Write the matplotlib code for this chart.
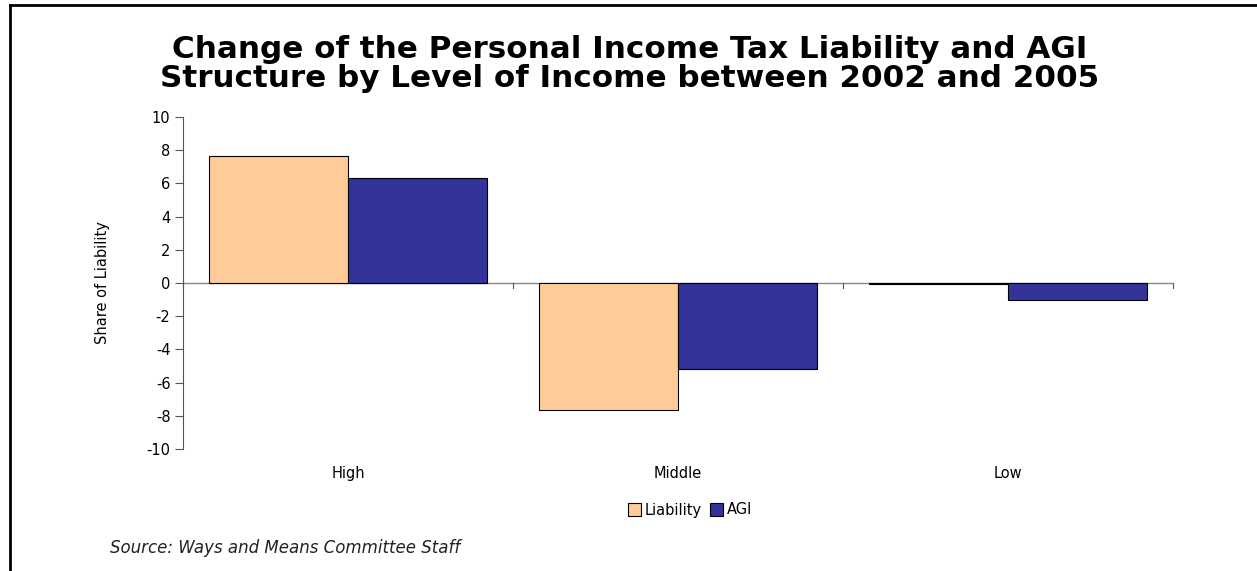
import numpy as np
import matplotlib.pyplot as plt
from matplotlib.lines import Line2D

# Data
categories = ['High', 'Middle', 'Low']
liability = [7.65, -7.65, -0.05]
agi = [6.33, -5.18, -1.02]
yticks = [-10, -8, -6, -4, -2, 0, 2, 4, 6, 8, 10]

W, H = 1257, 571
fig = plt.figure(figsize=(W / 100, H / 100), dpi=100)
ax = fig.add_axes([183 / W, 1 - 449 / H, (1173 - 183) / W, (449 - 117) / H])

x = np.arange(len(categories))
bw = 0.42
ax.bar(x - bw / 2, liability, bw, color='#FFCC99', edgecolor='black', linewidth=0.8, label='Liability')
ax.bar(x + bw / 2, agi, bw, color='#333399', edgecolor='black', linewidth=0.8, label='AGI')

ax.set_xlim(-0.5, len(categories) - 0.5)
ax.set_ylim(-10, 10)
ax.set_yticks(yticks)
ax.set_yticklabels([str(v) for v in yticks], fontsize=10.5)
ax.tick_params(axis='y', length=6, width=0.8, color='#555555', pad=3)

for s in ['top', 'right', 'bottom']:
    ax.spines[s].set_visible(False)
ax.spines['left'].set_color('#555555')
ax.axhline(0, color='#888888', linewidth=1.0, zorder=0)

# category boundary ticks on the zero line
ax.set_xticks([])
for b in np.arange(len(categories) + 1) - 0.5:
    ax.plot([b, b], [0, -0.3], color='#555555', linewidth=0.8, clip_on=False)
for i, c in enumerate(categories):
    ax.text(i, -11.5, c, ha='center', va='center', fontsize=10.5)

ax.set_ylabel('Share of Liability', fontsize=10.5, labelpad=26)

fig.text(630 / W, 1 - 64 / H,
         'Change of the Personal Income Tax Liability and AGI\nStructure by Level of Income between 2002 and 2005',
         ha='center', va='center', fontsize=22.3, fontweight='bold', linespacing=1.0)

fig.legend(loc='center', bbox_to_anchor=(690 / W, 1 - 510 / H), ncol=2, frameon=False,
           fontsize=10.5, handlelength=0.9, handleheight=0.9, handletextpad=0.3,
           columnspacing=0.5)

fig.text(110 / W, 1 - 548 / H, 'Source: Ways and Means Committee Staff',
         ha='left', va='center', fontsize=12, style='italic', color='#222222')

# frame lines (top and left)
fig.add_artist(Line2D([10 / W, 10 / W], [0, 1 - 5 / H], transform=fig.transFigure, color='black', linewidth=2))
fig.add_artist(Line2D([10 / W, 1], [1 - 5 / H, 1 - 5 / H], transform=fig.transFigure, color='black', linewidth=2))

fig.savefig('out.png', dpi=100)
